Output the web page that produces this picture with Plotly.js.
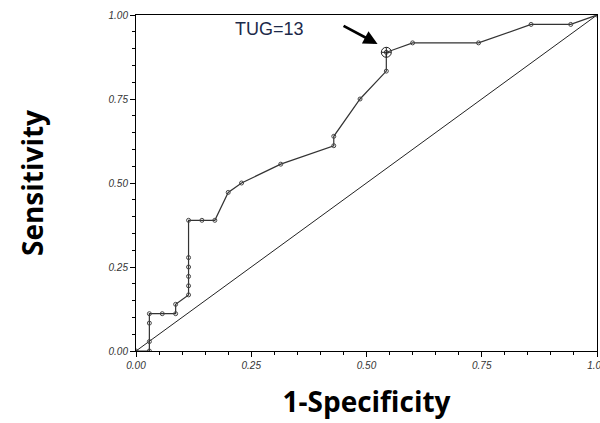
<!DOCTYPE html>
<html><head><meta charset="utf-8">
<script src="https://cdn.plot.ly/plotly-3.0.1.min.js"></script>
<style>html,body{margin:0;padding:0;background:#fff}</style>
</head><body>
<div id="chart" style="width:600px;height:423px"></div>
<script>
// ROC curve points (1-Specificity, Sensitivity)
const fpr = [0, 0.029, 0.029, 0.029, 0.029, 0.057, 0.086, 0.086, 0.114, 0.114, 0.114, 0.114, 0.114, 0.114, 0.143, 0.171, 0.2, 0.229, 0.314, 0.429, 0.429, 0.486, 0.543, 0.543, 0.6, 0.743, 0.857, 0.943, 1.0];
const sens = [0, 0, 0.028, 0.083, 0.111, 0.111, 0.111, 0.139, 0.167, 0.194, 0.222, 0.25, 0.278, 0.389, 0.389, 0.389, 0.472, 0.5, 0.556, 0.611, 0.639, 0.75, 0.833, 0.889, 0.917, 0.917, 0.972, 0.972, 1.0];
const refX = [0, 1];
const refY = [0, 1];
const cutX = [0.543];
const cutY = [0.889];
const cutLabel = "TUG=13";
const xTicks = [0, 0.25, 0.5, 0.75, 1];
const xTickText = ["0.00", "0.25", "0.50", "0.75", "1.00"];

const traces = [
  {x: refX, y: refY, mode: 'lines', line: {color: '#222', width: 1}, hoverinfo: 'skip'},
  {x: fpr, y: sens, mode: 'lines+markers', line: {color: '#333', width: 1.2},
   marker: {symbol: 'circle-open', size: 4, color: '#444', line: {width: 1}}},
  {x: cutX, y: cutY, mode: 'markers',
   marker: {symbol: 'circle-cross-open', size: 10, color: '#222', line: {width: 1}}}
];

const axisCommon = {
  range: [0, 1], tickvals: xTicks, ticktext: xTickText,
  ticks: 'outside', ticklen: 5, tickcolor: '#000', tickwidth: 1,
  showgrid: false, zeroline: false, showline: true, linecolor: '#000', linewidth: 1, mirror: true,
  tickfont: {family: 'Liberation Sans, Arial', size: 10, color: '#333', style: 'italic'},
  minor: {dtick: 0.05, ticks: 'outside', ticklen: 3, tickcolor: '#000', showgrid: false},
  ticklabeloverflow: 'allow',
  fixedrange: true
};

const titleFont = {family: 'Open Sans, sans-serif', size: 28, color: '#000', weight: 'bold'};

const layout = {
  width: 600, height: 423,
  margin: {l: 136, r: 3, t: 15, b: 72},
  paper_bgcolor: '#fff', plot_bgcolor: '#fff',
  showlegend: false,
  xaxis: Object.assign({}, axisCommon, {
    title: {text: '1-Specificity', font: titleFont, standoff: 22}
  }),
  yaxis: Object.assign({}, axisCommon, {
    title: {text: 'Sensitivity', font: titleFont, standoff: 56}
  }),
  annotations: [
    {x: 0.289, y: 0.958, xref: 'x', yref: 'y', text: cutLabel, showarrow: false,
     font: {family: 'Liberation Sans, Arial', size: 18, color: '#1c2a4a'}},
    {x: 0.524, y: 0.914, ax: 0.447, ay: 0.970, xref: 'x', yref: 'y', axref: 'x', ayref: 'y',
     text: '', showarrow: true, arrowhead: 2, arrowsize: 1, arrowwidth: 2.8, arrowcolor: '#000'}
  ]
};

Plotly.newPlot('chart', traces, layout, {staticPlot: true, displayModeBar: false});
</script>
</body></html>
